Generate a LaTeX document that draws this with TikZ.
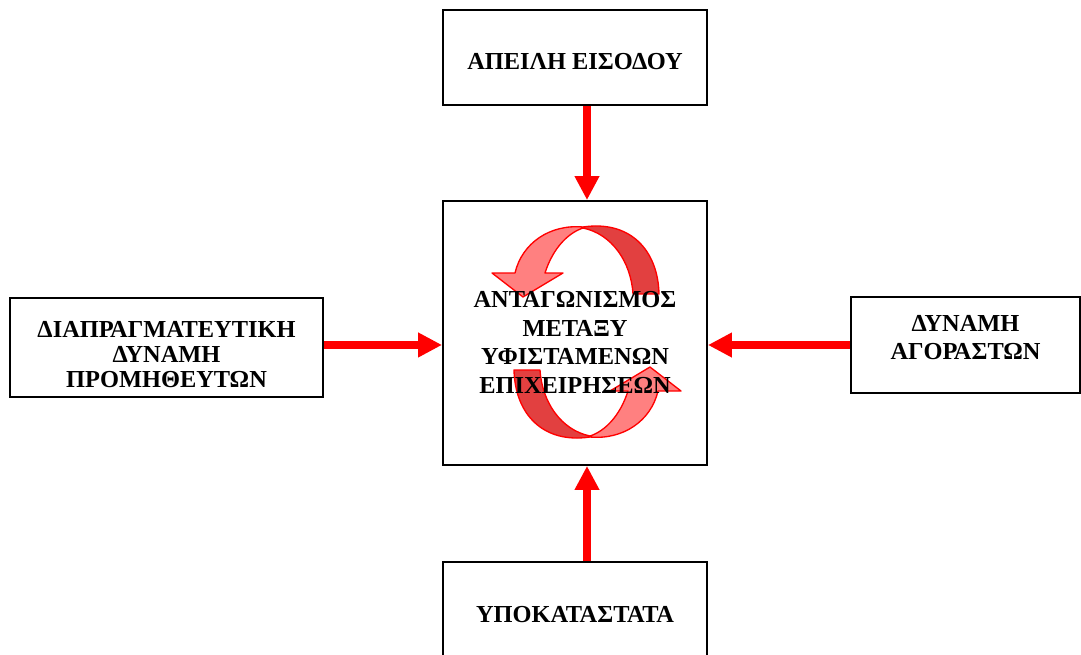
\documentclass[tikz,border=0pt]{standalone}
\usepackage{fontspec}
\setmainfont{Liberation Serif}
\usetikzlibrary{arrows.meta}

\tikzset{
  fbox/.style={draw, line width=1.4pt, fill=white, inner sep=0pt},
  ftext/.style={align=center, inner sep=0pt},
  force/.style={draw=red, line width=6pt, -{Triangle[length=18pt,width=17.5pt]}},
  lightband/.style={fill={rgb,255:red,255;green,128;blue,128}, draw=red, line width=1pt, line join=round},
  darkband/.style={fill={rgb,255:red,226;green,64;blue,64}, draw=red, line width=1pt, line join=round},
}
\newcommand{\ftxt}[1]{\bfseries\fontsize{18.3}{#1}\selectfont}

\begin{document}
\begin{tikzpicture}[x=0.75pt, y=-0.75pt]

    \useasboundingbox (0,0) rectangle (1081,654);
    \clip (0,0) rectangle (1081,654);

    % -------------------------------------------------------
    % 1. The five boxes
    % -------------------------------------------------------
    \node[fbox, minimum width=198pt, minimum height=71.25pt] (apeili) at (575,57.5) {};
    \node[fbox, minimum width=198pt, minimum height=198pt] (antag) at (575,333) {};
    \node[fbox, minimum width=234.75pt, minimum height=74.25pt] (promith) at (166.5,347.5) {};
    \node[fbox, minimum width=171.75pt, minimum height=72pt] (agorast) at (965.5,345) {};
    \node[fbox, minimum width=198pt, minimum height=79.5pt] (ypokat) at (575,615) {};

    % -------------------------------------------------------
    % 2. Forces pointing at the centre box
    % -------------------------------------------------------
    \draw[force] ([xshift=9pt]apeili.south) -- ([xshift=9pt]antag.north);
    \draw[force] ([xshift=9pt]ypokat.north) -- ([xshift=9pt]antag.south);
    \draw[force] ([yshift=1.9pt]promith.east) -- ([yshift=1.9pt]promith.east -| antag.west);
    \draw[force] (agorast.west) -- (agorast.west -| antag.east);

    % -------------------------------------------------------
    % 3. Circular arrows (second one turned half a turn)
    % -------------------------------------------------------
    \foreach \rot in {0,180} {
      \begin{scope}[rotate around={\rot:(586.5,332)}]
        % back half of the ribbon
        \draw[darkband] (583,227) .. controls (630,220) and (658,250) .. (659,294)
          -- (633,294) .. controls (631,262) and (612,234) .. (583,228) -- cycle;
        % front half with the head
        \draw[lightband] (583,227) .. controls (550,224) and (522,243) .. (515,273)
          -- (492,273) -- (523,297) -- (563,273) -- (545,273)
          .. controls (553,248) and (568,233) .. (583,228) -- cycle;
      \end{scope}
    }

    % -------------------------------------------------------
    % 4. Texts
    % -------------------------------------------------------
    \node[ftext, font=\ftxt{21}] (apeili-t) at ([yshift=-3pt]apeili.center) {ΑΠΕΙΛΗ ΕΙΣΟΔΟΥ};
    \node[ftext, font=\ftxt{21.4}] (antag-t) at ([yshift=-7pt]antag.center)
      {ΑΝΤΑΓΩΝΙΣΜΟΣ\\ΜΕΤΑΞΥ\\ΥΦΙΣΤΑΜΕΝΩΝ\\ΕΠΙΧΕΙΡΗΣΕΩΝ};
    \node[ftext, font=\ftxt{18.75}] (promith-t) at ([yshift=-5pt]promith.center)
      {ΔΙΑΠΡΑΓΜΑΤΕΥΤΙΚΗ\\ΔΥΝΑΜΗ\\ΠΡΟΜΗΘΕΥΤΩΝ};
    \node[ftext, font=\ftxt{21.5}] (agorast-t) at ([yshift=5.5pt]agorast.center)
      {ΔΥΝΑΜΗ\\ΑΓΟΡΑΣΤΩΝ};
    \node[ftext, font=\ftxt{21}] (ypokat-t) at (ypokat.center) {ΥΠΟΚΑΤΑΣΤΑΤΑ};

\end{tikzpicture}
\end{document}
